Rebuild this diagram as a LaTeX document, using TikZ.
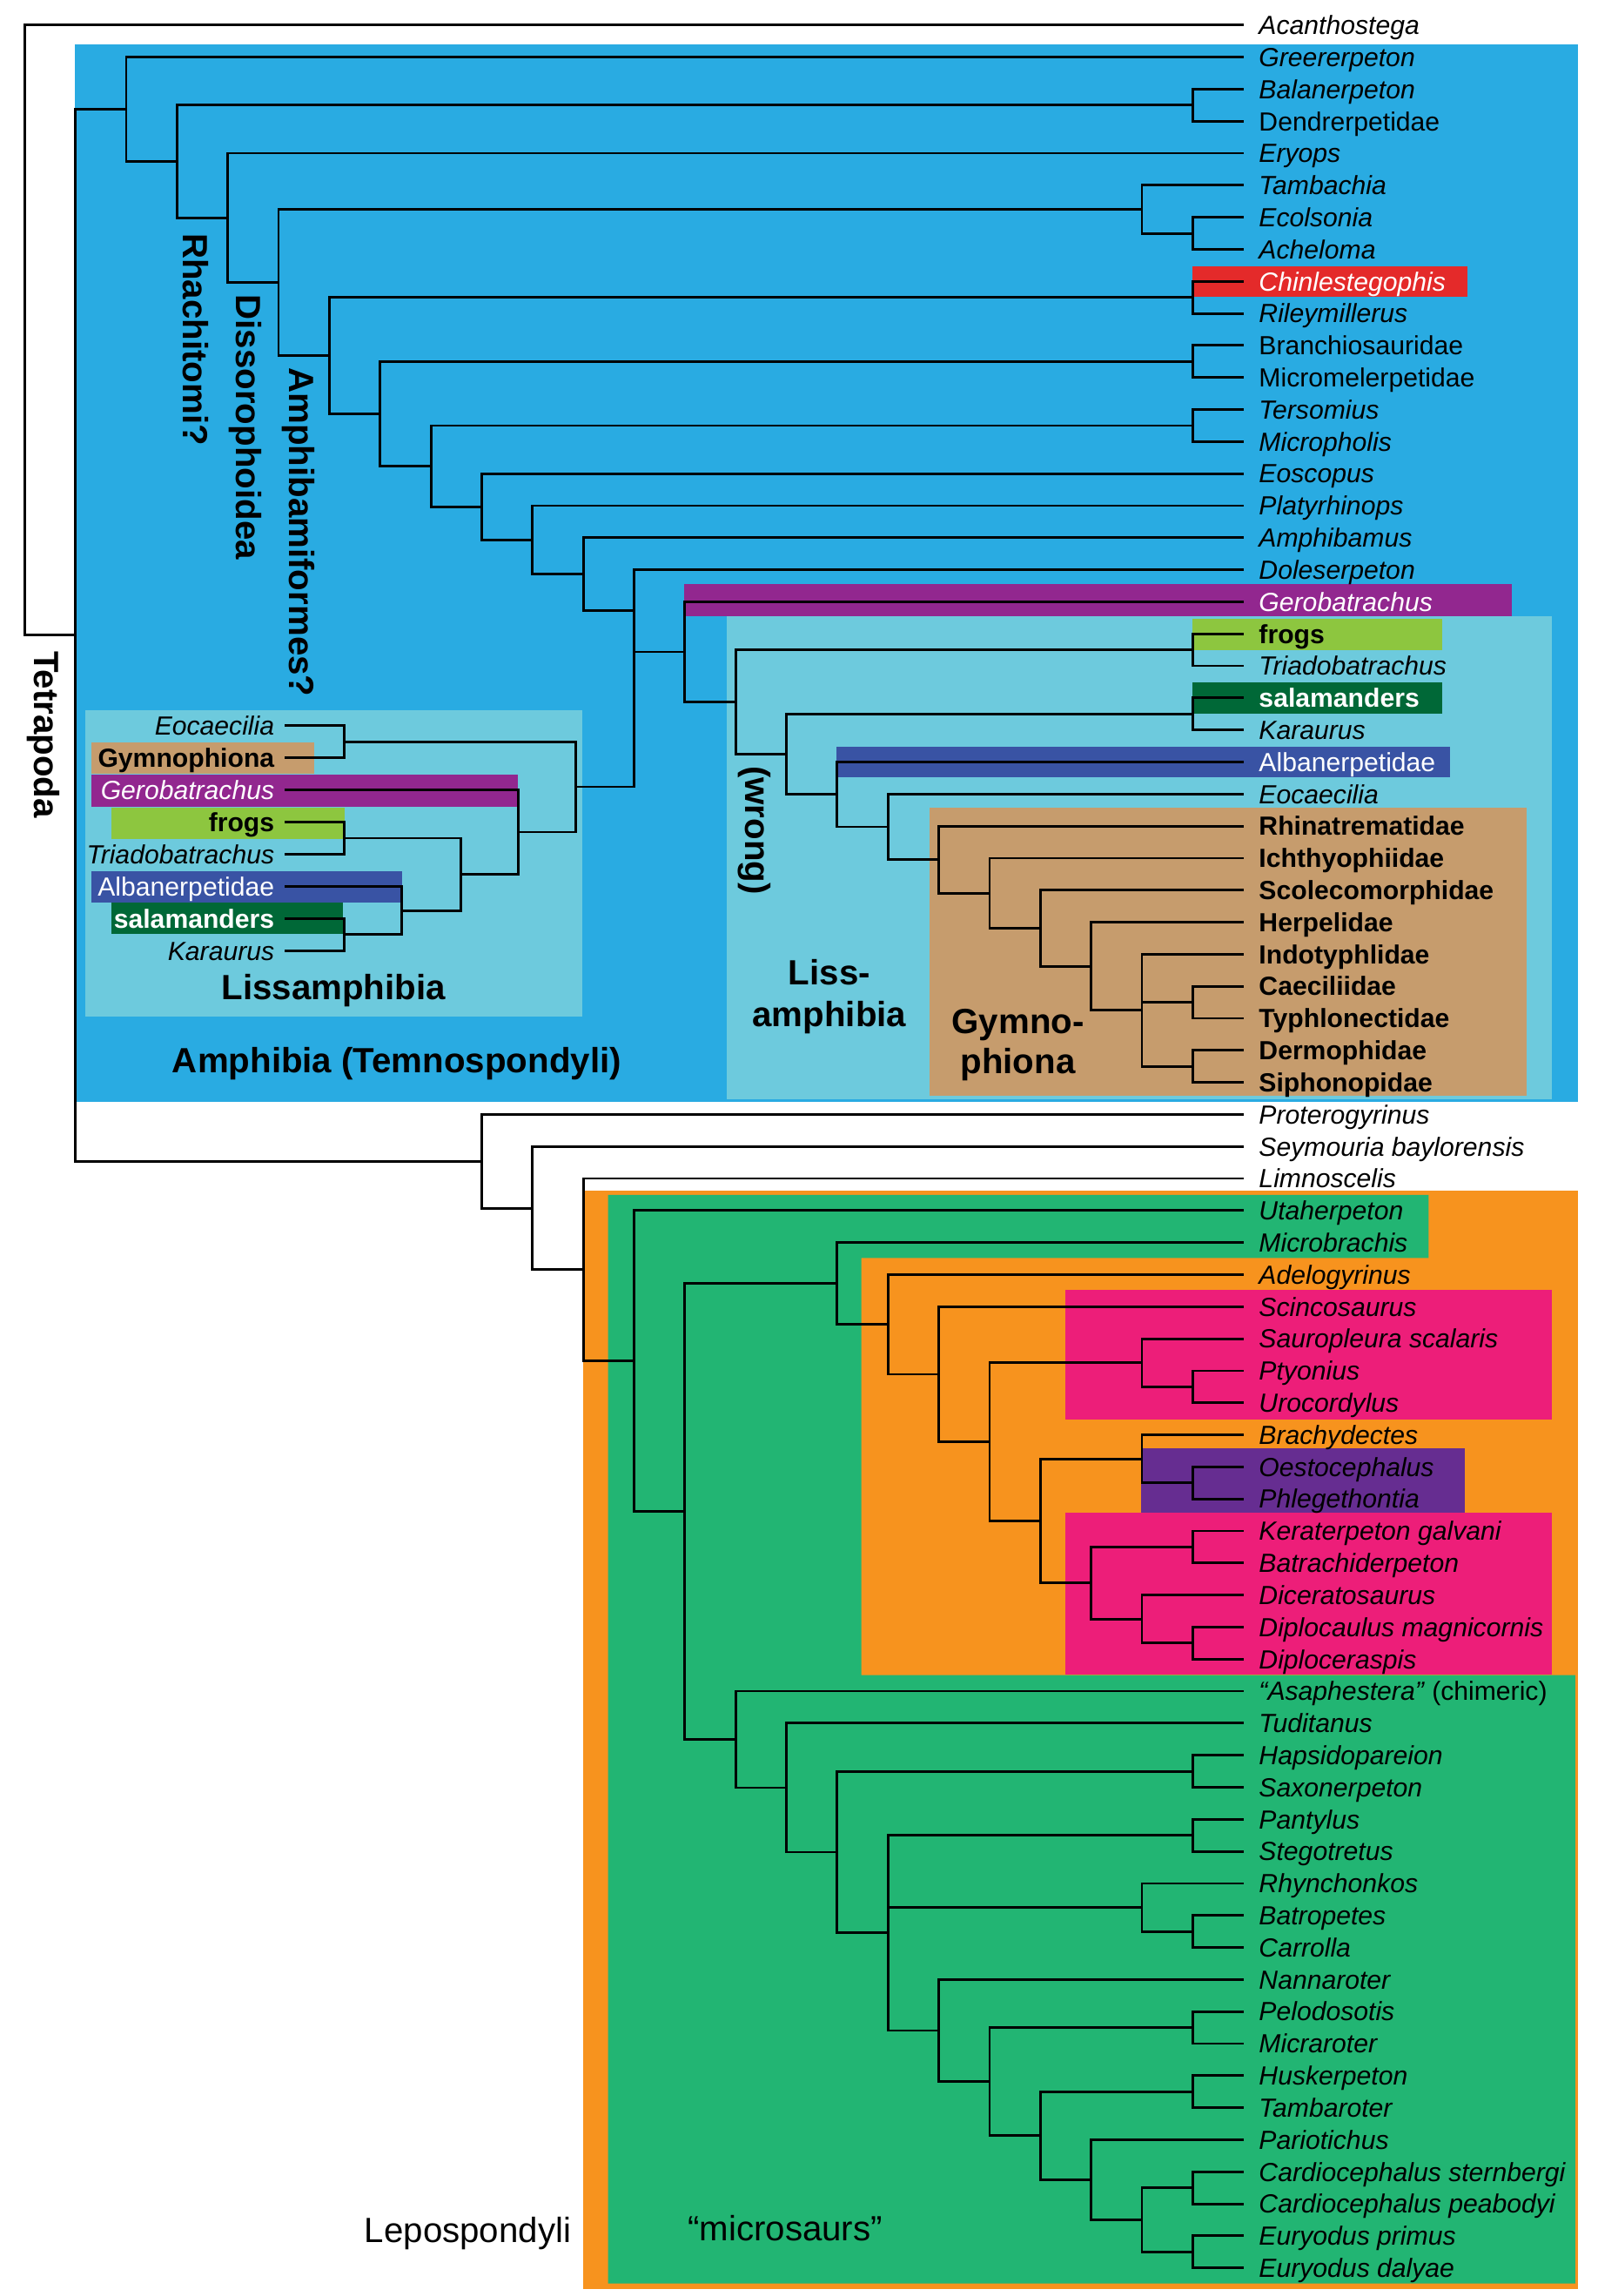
\documentclass[tikz,border=0pt]{standalone}
\usepackage{fontspec}
\setmainfont{Liberation Sans}
\usepackage{tikz}
\newcommand{\leaffont}{\fontsize{17.9pt}{20pt}\selectfont}
\newcommand{\cladefont}{\fontsize{23.9pt}{28pt}\selectfont}
\definecolor{amphblue}{HTML}{29ABE2}
\definecolor{lissblue}{HTML}{6DCADD}
\definecolor{gymtan}{HTML}{C69C6D}
\definecolor{chinred}{HTML}{E42A2A}
\definecolor{geropurple}{HTML}{92278F}
\definecolor{frogsgreen}{HTML}{8DC63F}
\definecolor{salgreen}{HTML}{006837}
\definecolor{albblue}{HTML}{3953A4}
\definecolor{lepoorange}{HTML}{F7931E}
\definecolor{microgreen}{HTML}{22B573}
\definecolor{nectpink}{HTML}{ED1E79}
\definecolor{aistpurple}{HTML}{662D91}

\begin{document}
\begin{tikzpicture}[
    x=1pt, y=-1pt,
    line width=1.7pt,
    leaf/.style={anchor=west, inner xsep=9.7pt, inner ysep=0pt,
      text height=12.8pt, text depth=0pt, font=\leaffont\itshape},
    fam/.style={leaf, font=\leaffont},
    grp/.style={leaf, font=\leaffont\bfseries},
    ileaf/.style={leaf, anchor=east, inner xsep=6.3pt},
    ifam/.style={ileaf, font=\leaffont},
    igrp/.style={ileaf, font=\leaffont\bfseries},
    clade/.style={inner sep=0pt, font=\cladefont\bfseries},
    vclade/.style={clade, rotate=-90, anchor=base west},
    ]
    \useasboundingbox (0,0) rectangle (1090.2,1566.5);

    \fill[amphblue] (51.1,30.1) rectangle (1076.4,752);
    \fill[lissblue] (58.1,484.4) rectangle (397.3,693.8);
    \fill[lissblue] (496,420.7) rectangle (1059,750);
    \fill[gymtan] (634,550.8) rectangle (1041.6,747.8);
    \fill[lepoorange] (397.7,812.4) rectangle (1076.4,1562);
    \fill[microgreen] (414.8,815.2) -- (974.7,815.2) -- (974.7,858.3)
      -- (587.7,858.3) -- (587.7,1142.8) -- (1074.8,1142.8)
      -- (1074.8,1558) -- (414.8,1558) -- cycle;
    \fill[nectpink] (726.7,880) rectangle (1059,968.3);
    \fill[nectpink] (726.7,1032) rectangle (1059,1142.3);
    \fill[aistpurple] (778.3,988.2) rectangle (999.2,1032);

    \fill[chinred] (813.5,181.8) rectangle (1001.2,202.4);
    \fill[geropurple] (467,398.7) rectangle (1031.2,420.7);
    \fill[frogsgreen] (813.7,422.4) rectangle (984,443.8);
    \fill[salgreen] (813.7,465.3) rectangle (984,486.7);
    \fill[albblue] (570.5,509.2) rectangle (989.3,530.3);
    \fill[gymtan] (62.4,506.3) rectangle (214.4,528);
    \fill[geropurple] (62.4,528.5) rectangle (353.2,550.7);
    \fill[frogsgreen] (76.1,551.3) rectangle (234.9,572.5);
    \fill[albblue] (62.4,594.4) rectangle (274.1,615.6);
    \fill[salgreen] (76.1,616) rectangle (234,637.4);

    \node[leaf] (acan) at (848.4,17.10) {Acanthostega};
    \node[leaf] (greer) at (848.4,38.96) {Greererpeton};
    \node[leaf] (balan) at (848.4,60.82) {Balanerpeton};
    \node[fam] (dendr) at (848.4,82.68) {Dendrerpetidae};
    \node[leaf] (eryops) at (848.4,104.54) {Eryops};
    \node[leaf] (tamba) at (848.4,126.40) {Tambachia};
    \node[leaf] (ecols) at (848.4,148.26) {Ecolsonia};
    \node[leaf] (achel) at (848.4,170.12) {Acheloma};
    \node[leaf, text=white] (chinl) at (848.4,191.98) {Chinlestegophis};
    \node[leaf] (riley) at (848.4,213.84) {Rileymillerus};
    \node[fam] (branch) at (848.4,235.70) {Branchiosauridae};
    \node[fam] (micromel) at (848.4,257.56) {Micromelerpetidae};
    \node[leaf] (terso) at (848.4,279.42) {Tersomius};
    \node[leaf] (micro) at (848.4,301.28) {Micropholis};
    \node[leaf] (eosc) at (848.4,323.14) {Eoscopus};
    \node[leaf] (platy) at (848.4,345.00) {Platyrhinops};
    \node[leaf] (amphib) at (848.4,366.86) {Amphibamus};
    \node[leaf] (doles) at (848.4,388.72) {Doleserpeton};
    \node[leaf, text=white] (gero) at (848.4,410.58) {Gerobatrachus};
    \node[grp] (frogs) at (848.4,432.44) {frogs};
    \node[leaf] (triado) at (848.4,454.30) {Triadobatrachus};
    \node[grp, text=white] (salam) at (848.4,476.16) {salamanders};
    \node[leaf] (karau) at (848.4,498.02) {Karaurus};
    \node[fam, text=white] (alban) at (848.4,519.88) {Albanerpetidae};
    \node[leaf] (eocae) at (848.4,541.74) {Eocaecilia};
    \node[grp] (rhina) at (848.4,563.60) {Rhinatrematidae};
    \node[grp] (ichth) at (848.4,585.46) {Ichthyophiidae};
    \node[grp] (scole) at (848.4,607.32) {Scolecomorphidae};
    \node[grp] (herpe) at (848.4,629.18) {Herpelidae};
    \node[grp] (indot) at (848.4,651.04) {Indotyphlidae};
    \node[grp] (caeci) at (848.4,672.90) {Caeciliidae};
    \node[grp] (typhl) at (848.4,694.76) {Typhlonectidae};
    \node[grp] (dermo) at (848.4,716.62) {Dermophidae};
    \node[grp] (sipho) at (848.4,738.48) {Siphonopidae};
    \node[leaf] (prote) at (848.4,760.34) {Proterogyrinus};
    \node[leaf] (seymo) at (848.4,782.20) {Seymouria baylorensis};
    \node[leaf] (limno) at (848.4,804.06) {Limnoscelis};
    \node[leaf] (utahe) at (848.4,825.92) {Utaherpeton};
    \node[leaf] (microb) at (848.4,847.78) {Microbrachis};
    \node[leaf] (adelo) at (848.4,869.64) {Adelogyrinus};
    \node[leaf] (scinc) at (848.4,891.50) {Scincosaurus};
    \node[leaf] (sauro) at (848.4,913.36) {Sauropleura scalaris};
    \node[leaf] (ptyon) at (848.4,935.22) {Ptyonius};
    \node[leaf] (uroco) at (848.4,957.08) {Urocordylus};
    \node[leaf] (brach) at (848.4,978.94) {Brachydectes};
    \node[leaf] (oesto) at (848.4,1000.80) {Oestocephalus};
    \node[leaf] (phleg) at (848.4,1022.66) {Phlegethontia};
    \node[leaf] (kerat) at (848.4,1044.52) {Keraterpeton galvani};
    \node[leaf] (batra) at (848.4,1066.38) {Batrachiderpeton};
    \node[leaf] (dicer) at (848.4,1088.24) {Diceratosaurus};
    \node[leaf] (diplc) at (848.4,1110.10) {Diplocaulus magnicornis};
    \node[leaf] (diplr) at (848.4,1131.96) {Diploceraspis};
    \node[leaf] (asaph) at (848.4,1153.82) {“Asaphestera”\ \textup{(chimeric)}};
    \node[leaf] (tudit) at (848.4,1175.68) {Tuditanus};
    \node[leaf] (hapsi) at (848.4,1197.54) {Hapsidopareion};
    \node[leaf] (saxon) at (848.4,1219.40) {Saxonerpeton};
    \node[leaf] (panty) at (848.4,1241.26) {Pantylus};
    \node[leaf] (stego) at (848.4,1263.12) {Stegotretus};
    \node[leaf] (rhync) at (848.4,1284.98) {Rhynchonkos};
    \node[leaf] (batro) at (848.4,1306.84) {Batropetes};
    \node[leaf] (carro) at (848.4,1328.70) {Carrolla};
    \node[leaf] (nanna) at (848.4,1350.56) {Nannaroter};
    \node[leaf] (pelod) at (848.4,1372.42) {Pelodosotis};
    \node[leaf] (micra) at (848.4,1394.28) {Micraroter};
    \node[leaf] (husk) at (848.4,1416.14) {Huskerpeton};
    \node[leaf] (tamb) at (848.4,1438.00) {Tambaroter};
    \node[leaf] (pario) at (848.4,1459.86) {Pariotichus};
    \node[leaf] (cster) at (848.4,1481.72) {Cardiocephalus sternbergi};
    \node[leaf] (cpeab) at (848.4,1503.58) {Cardiocephalus peabodyi};
    \node[leaf] (eprim) at (848.4,1525.44) {Euryodus primus};
    \node[leaf] (edaly) at (848.4,1547.30) {Euryodus dalyae};

    \node[ileaf] (ieocae) at (194.3,495.00) {Eocaecilia};
    \node[igrp] (igymno) at (194.3,516.95) {Gymnophiona};
    \node[ileaf, text=white] (igero) at (194.3,538.90) {Gerobatrachus};
    \node[igrp] (ifrogs) at (194.3,560.85) {frogs};
    \node[ileaf] (itriado) at (194.3,582.80) {Triadobatrachus};
    \node[ifam, text=white] (ialban) at (194.3,604.75) {Albanerpetidae};
    \node[igrp, text=white] (isalam) at (194.3,626.70) {salamanders};
    \node[ileaf] (ikarau) at (194.3,648.65) {Karaurus};

    \node[vclade] (tetra) at (23.4,443.4) {Tetrapoda};
    \node[vclade] (rhach) at (125.1,158.4) {Rhachitomi?};
    \node[vclade] (disso) at (161.3,200.3) {Dissorophoidea};
    \node[vclade] (amphi) at (197.5,250) {Amphibamiformes?};
    \node[vclade] (wrong) at (508.5,521.8) {(wrong)};
    \node[clade, anchor=base] (lisslab) at (227.5,682) {Lissamphibia};
    \node[clade, anchor=base] (amphlab) at (270.7,732) {Amphibia (Temnospondyli)};
    \node[clade, anchor=base] (lissa) at (565.8,672) {Liss-};
    \node[clade, anchor=base] (lissb) at (565.8,700.4) {amphibia};
    \node[clade, anchor=base] (gymna) at (694.5,705.2) {Gymno-};
    \node[clade, anchor=base] (gymnb) at (694.5,732.5) {phiona};
    \node[clade, font=\cladefont, anchor=base] (lepolab) at (319.2,1530) {Lepospondyli};
    \node[clade, font=\cladefont, anchor=base] (microlab) at (535.7,1529) {“microsaurs”};

    \coordinate (root) at (16.8,225.27);
    \coordinate (n1) at (51.45,433.44);
    \coordinate (a2) at (86.1,74.58);
    \coordinate (a3) at (120.75,110.19);
    \coordinate (bd) at (813.75,71.75);
    \coordinate (a4) at (155.4,148.63);
    \coordinate (a5) at (190.05,192.72);
    \coordinate (tam) at (779.1,142.80);
    \coordinate (ea) at (813.75,159.19);
    \coordinate (a6) at (224.7,242.63);
    \coordinate (cr) at (813.75,202.91);
    \coordinate (a7) at (259.35,282.35);
    \coordinate (bm) at (813.75,246.63);
    \coordinate (a8) at (294,318.06);
    \coordinate (tm) at (813.75,290.35);
    \coordinate (a9) at (328.65,345.77);
    \coordinate (a10) at (363.3,368.40);
    \coordinate (a11) at (397.95,391.80);
    \coordinate (a12) at (432.6,416.75);
    \coordinate (l0) at (467.25,444.77);
    \coordinate (liss) at (501.9,478.96);
    \coordinate (ft) at (813.75,443.37);
    \coordinate (l2) at (536.55,514.54);
    \coordinate (sk) at (813.75,487.09);
    \coordinate (l3) at (571.2,542.00);
    \coordinate (l4) at (605.85,564.11);
    \coordinate (gym) at (640.5,586.49);
    \coordinate (g5) at (675.15,609.37);
    \coordinate (g6) at (709.8,633.28);
    \coordinate (g7) at (744.45,659.24);
    \coordinate (g8) at (779.1,689.30);
    \coordinate (ct) at (813.75,683.83);
    \coordinate (ds) at (813.75,727.55);

    \coordinate (ieg) at (235,505.98);
    \coordinate (ift) at (235,571.83);
    \coordinate (isk) at (235,637.68);
    \coordinate (ias) at (274.1,621.2);
    \coordinate (ifa) at (314.2,596.5);
    \coordinate (igf) at (353.6,567.7);
    \coordinate (iroot) at (392.9,536.84);

    \coordinate (p9) at (328.65,792.30);
    \coordinate (p10) at (363.3,824.26);
    \coordinate (p11) at (397.95,866.32);
    \coordinate (p12) at (432.6,928.57);
    \coordinate (p13) at (467.25,1031.23);
    \coordinate (p16) at (571.2,875.71);
    \coordinate (p17) at (605.85,903.63);
    \coordinate (p18) at (640.5,937.62);
    \coordinate (p19) at (675.15,983.73);
    \coordinate (sau) at (779.1,929.76);
    \coordinate (pu) at (813.75,946.15);
    \coordinate (p20) at (709.8,1037.70);
    \coordinate (brd) at (779.1,995.34);
    \coordinate (op) at (813.75,1011.73);
    \coordinate (ker) at (744.45,1080.05);
    \coordinate (kb) at (813.75,1055.45);
    \coordinate (dic) at (779.1,1104.64);
    \coordinate (dd) at (813.75,1121.03);
    \coordinate (m14) at (501.9,1186.74);
    \coordinate (m15) at (536.55,1219.66);
    \coordinate (m16) at (571.2,1263.64);
    \coordinate (hs) at (813.75,1208.47);
    \coordinate (m17) at (605.85,1318.80);
    \coordinate (ps) at (813.75,1252.19);
    \coordinate (rbc) at (779.1,1301.38);
    \coordinate (bc) at (813.75,1317.77);
    \coordinate (c18) at (640.5,1385.40);
    \coordinate (c19) at (675.15,1420.24);
    \coordinate (pm) at (813.75,1383.35);
    \coordinate (c20) at (709.8,1457.13);
    \coordinate (ht) at (813.75,1427.07);
    \coordinate (c21) at (744.45,1487.19);
    \coordinate (c22) at (779.1,1514.51);
    \coordinate (cc) at (813.75,1492.65);
    \coordinate (ee) at (813.75,1536.37);

    \draw (acan.west) -| (root) |- (n1);
    \draw (a2) -| (n1) |- (p9);
    \draw (greer.west) -| (a2) |- (a3);
    \draw (bd) -| (a3) |- (a4);
    \draw (balan.west) -| (bd) |- (dendr.west);
    \draw (eryops.west) -| (a4) |- (a5);
    \draw (tam) -| (a5) |- (a6);
    \draw (tamba.west) -| (tam) |- (ea);
    \draw (ecols.west) -| (ea) |- (achel.west);
    \draw (cr) -| (a6) |- (a7);
    \draw (chinl.west) -| (cr) |- (riley.west);
    \draw (bm) -| (a7) |- (a8);
    \draw (branch.west) -| (bm) |- (micromel.west);
    \draw (tm) -| (a8) |- (a9);
    \draw (terso.west) -| (tm) |- (micro.west);
    \draw (eosc.west) -| (a9) |- (a10);
    \draw (platy.west) -| (a10) |- (a11);
    \draw (amphib.west) -| (a11) |- (a12);
    \draw (doles.west) -| (a12) |- (l0) (a12) |- (iroot);
    \draw (gero.west) -| (l0) |- (liss);
    \draw (ft) -| (liss) |- (l2);
    \draw (frogs.west) -| (ft) |- (triado.west);
    \draw (sk) -| (l2) |- (l3);
    \draw (salam.west) -| (sk) |- (karau.west);
    \draw (alban.west) -| (l3) |- (l4);
    \draw (eocae.west) -| (l4) |- (gym);
    \draw (rhina.west) -| (gym) |- (g5);
    \draw (ichth.west) -| (g5) |- (g6);
    \draw (scole.west) -| (g6) |- (g7);
    \draw (herpe.west) -| (g7) |- (g8);
    \draw (indot.west) -| (g8) |- (ds) (g8) |- (ct);
    \draw (caeci.west) -| (ct) |- (typhl.west);
    \draw (dermo.west) -| (ds) |- (sipho.west);

    \draw (ieocae.east) -| (ieg) |- (igymno.east);
    \draw (ifrogs.east) -| (ift) |- (itriado.east);
    \draw (isalam.east) -| (isk) |- (ikarau.east);
    \draw (ialban.east) -| (ias) |- (isk);
    \draw (ift) -| (ifa) |- (ias);
    \draw (igero.east) -| (igf) |- (ifa);
    \draw (ieg) -| (iroot) |- (igf);

    \draw (prote.west) -| (p9) |- (p10);
    \draw (seymo.west) -| (p10) |- (p11);
    \draw (limno.west) -| (p11) |- (p12);
    \draw (utahe.west) -| (p12) |- (p13);
    \draw (p16) -| (p13) |- (m14);
    \draw (microb.west) -| (p16) |- (p17);
    \draw (adelo.west) -| (p17) |- (p18);
    \draw (scinc.west) -| (p18) |- (p19);
    \draw (sau) -| (p19) |- (p20);
    \draw (sauro.west) -| (sau) |- (pu);
    \draw (ptyon.west) -| (pu) |- (uroco.west);
    \draw (brd) -| (p20) |- (ker);
    \draw (brach.west) -| (brd) |- (op);
    \draw (oesto.west) -| (op) |- (phleg.west);
    \draw (kb) -| (ker) |- (dic);
    \draw (kerat.west) -| (kb) |- (batra.west);
    \draw (dicer.west) -| (dic) |- (dd);
    \draw (diplc.west) -| (dd) |- (diplr.west);
    \draw (asaph.west) -| (m14) |- (m15);
    \draw (tudit.west) -| (m15) |- (m16);
    \draw (hs) -| (m16) |- (m17);
    \draw (hapsi.west) -| (hs) |- (saxon.west);
    \draw (ps) -| (m17) |- (c18) (m17) |- (rbc);
    \draw (panty.west) -| (ps) |- (stego.west);
    \draw (rhync.west) -| (rbc) |- (bc);
    \draw (batro.west) -| (bc) |- (carro.west);
    \draw (nanna.west) -| (c18) |- (c19);
    \draw (pm) -| (c19) |- (c20);
    \draw (pelod.west) -| (pm) |- (micra.west);
    \draw (ht) -| (c20) |- (c21);
    \draw (husk.west) -| (ht) |- (tamb.west);
    \draw (pario.west) -| (c21) |- (c22);
    \draw (cc) -| (c22) |- (ee);
    \draw (cster.west) -| (cc) |- (cpeab.west);
    \draw (eprim.west) -| (ee) |- (edaly.west);
  \end{tikzpicture}
\end{document}
